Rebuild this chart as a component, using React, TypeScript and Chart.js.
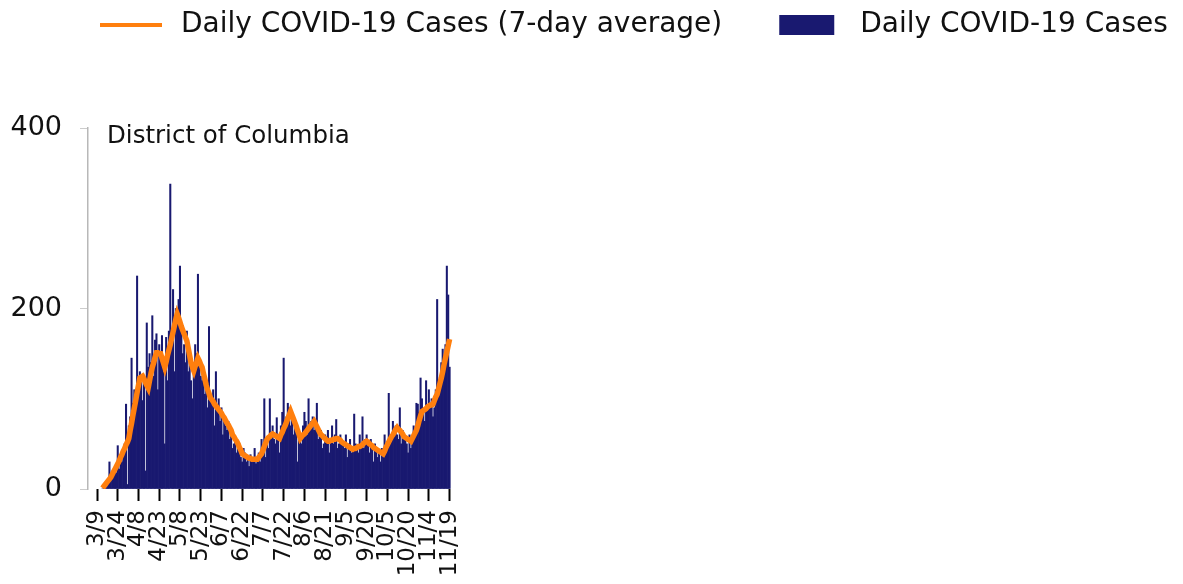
import { useEffect, useRef } from "react";
import { Chart, registerables } from "chart.js";

Chart.register(...registerables);

const TICK_LABELS = [
  "3/9", "3/24", "4/8", "4/23", "5/8", "5/23", "6/7", "6/22", "7/7",
  "7/22", "8/6", "8/21", "9/5", "9/20", "10/5", "10/20", "11/4", "11/19",
];
const TICK_STEP_DAYS = 15;
const FIRST_DATA_DAY = 4; // data begins 3/13 (days counted from 3/9)
const Y_TICKS = [0, 200, 400];
const PANEL_TITLE = "District of Columbia";
const LABEL_DAILY = "Daily COVID-19 Cases";
const LABEL_AVG = "Daily COVID-19 Cases (7-day average)";

// daily new cases, one per day from 3/13 to 11/19
const DAILY_CASES = [
  0, 2, 1, 3, 6, 30, 10, 12, 15, 20, 18, 48, 22, 35, 30, 42, 50, 94, 5, 70,
  80, 145, 95, 110, 105, 236, 120,
  130, 118, 98, 120, 20, 184, 135,
  150, 140, 192, 125, 165, 172, 110,
  160, 150, 170, 130, 50, 168, 120,
  175, 338, 165, 221, 130, 200, 190,
  210, 247, 180, 150, 160, 140, 175,
  130, 145, 120, 100, 135, 160, 150,
  238, 140, 125, 120, 130, 105, 115,
  90, 180, 100, 95, 110, 70, 130,
  85, 100, 75, 90, 60, 80, 70,
  65, 75, 55, 60, 45, 50,
  55, 40, 45, 50, 35, 30, 45,
  40, 30, 35, 25, 38, 33, 30,
  45, 28, 35, 40, 30, 55, 40,
  100, 35, 50, 45, 100, 60, 70,
  55, 50, 79, 60, 40, 70, 85,
  145, 75, 80, 95, 90, 70, 85,
  60, 75, 65, 30, 55, 60, 50,
  70, 85, 75, 60, 100, 70, 75,
  80, 65, 70, 95, 55, 60, 65,
  45, 50, 60, 55, 65, 40, 55,
  70, 50, 60, 77, 45, 50, 60,
  55, 50, 45, 60, 35, 50,
  55, 40, 45, 83, 50, 45, 40,
  60, 50, 80, 45, 55, 60, 50,
  40, 55, 45, 30, 50, 45, 35,
  40, 30, 45, 35, 60, 40, 45,
  106, 55, 60, 75, 65, 70, 60,
  55, 90, 50, 65, 60, 55,
  50, 40, 60, 45, 55, 70, 65,
  95, 94, 85, 123, 100, 85, 75,
  120, 90, 110, 95, 100, 80, 90,
  110, 210, 115, 120, 140, 155, 130,
  160, 247, 215, 135,
];

// 7-day average, one per day from 3/13 to 11/19
const AVG_7DAY = [
  1, 3, 5, 7, 9, 11, 13, 16, 19, 22, 25, 28, 31, 35, 38, 42, 45, 49, 52, 56,
  65, 73, 82, 90, 98, 107, 115, 123, 124,
  125, 122, 118, 115, 112, 120, 128, 135, 140, 146,
  151, 151, 150, 150, 145, 140, 135, 141, 148, 154,
  160, 167, 174, 181, 188, 194, 190, 185, 180, 176,
  172, 168, 164, 156, 148, 140, 135, 131, 136, 140,
  145, 142, 138, 135, 128, 122, 115, 110, 106, 101,
  99, 97, 94, 92, 90, 88, 86, 84, 81, 79,
  76, 73, 71, 68, 65, 60, 58, 55, 53,
  50, 46, 43, 39, 38, 37, 36, 35, 34, 34,
  33, 33, 33, 33, 33, 35, 37, 39, 43, 47,
  51, 55, 57, 58, 60, 61, 60, 59, 58, 57,
  56, 60, 63, 67, 70, 74, 78, 82, 86, 82,
  78, 74, 70, 65, 61, 56, 58, 60, 61, 63,
  65, 67, 69, 71, 73, 75, 72, 69, 66, 63,
  60, 59, 57, 56, 54, 53, 53, 54, 54, 55,
  55, 56, 56, 55, 54, 52, 51, 50, 49,
  48, 47, 46, 45, 44, 45, 45, 46, 47, 47,
  48, 49, 51, 52, 53, 52, 50, 49, 48, 46,
  45, 44, 43, 42, 41, 40, 39, 42, 46, 49,
  52, 55, 58, 60, 63, 66, 68, 66, 65, 63,
  61, 58, 57, 56, 55, 54, 53, 56, 59,
  62, 65, 70, 76, 81, 86, 87, 88, 89, 91,
  92, 93, 93, 94, 98, 102, 105, 111, 117, 123,
  130, 138, 145, 152, 159, 166,
];

const ORANGE = "#ff7f0e";
const NAVY = "#191970";
const FONT = '"DejaVu Sans", sans-serif';

const overlayPlugin = {
  id: "overlay",
  afterDraw(chart: any) {
    const ctx = chart.ctx as CanvasRenderingContext2D;
    const { left, top } = chart.chartArea;
    ctx.save();
    // panel title
    ctx.font = `24.5px ${FONT}`;
    ctx.fillStyle = "#111";
    ctx.textAlign = "left";
    ctx.textBaseline = "middle";
    ctx.fillText(PANEL_TITLE, left + 19, top + 9);

    // legend
    ctx.font = `28px ${FONT}`;
    const cy = 25;
    let x = 100;
    const items = [...chart.data.datasets].sort((a: any, b: any) => a.order - b.order);
    items.forEach((ds: any, i: number) => {
      if (ds.type === "line") {
        ctx.strokeStyle = ds.borderColor;
        ctx.lineWidth = 4;
        ctx.beginPath();
        ctx.moveTo(x, cy);
        ctx.lineTo(x + 62, cy);
        ctx.stroke();
        x += 62 + 19;
      } else {
        ctx.fillStyle = ds.backgroundColor;
        ctx.fillRect(x, cy - 10, 55, 20);
        x += 55 + 26;
      }
      ctx.fillStyle = "#111";
      ctx.fillText(ds.label, x, cy);
      x += ctx.measureText(ds.label).width;
      if (i < items.length - 1) x += 57;
    });
    ctx.restore();
  },
};

export default function App() {
  const canvasRef = useRef<HTMLCanvasElement | null>(null);

  useEffect(() => {
    document.body.style.margin = "0";
    const canvas = canvasRef.current;
    if (!canvas) return;
    const pxPerDay = 352.6 / 255;
    const xMin = -9 / pxPerDay;
    const xMax = xMin + 376 / pxPerDay;

    const chart = new Chart(canvas, {
      type: "bar",
      data: {
        datasets: [
          {
            type: "line",
            label: LABEL_AVG,
            data: AVG_7DAY.map((y, i) => ({ x: i + FIRST_DATA_DAY, y })),
            borderColor: ORANGE,
            backgroundColor: ORANGE,
            borderWidth: 5.5,
            pointRadius: 0,
            tension: 0,
            order: 0,
          },
          {
            type: "bar",
            label: LABEL_DAILY,
            data: DAILY_CASES.map((y, i) => ({ x: i + FIRST_DATA_DAY, y })),
            backgroundColor: NAVY,
            borderWidth: 0,
            barPercentage: 1,
            categoryPercentage: 1,
            order: 1,
          },
        ] as any,
      },
      options: {
        responsive: false,
        animation: false,
        devicePixelRatio: 1,
        layout: { padding: { top: 128, right: 719, bottom: 0, left: 0 } },
        plugins: {
          legend: { display: false },
          tooltip: { enabled: false },
          title: { display: false },
        },
        scales: {
          x: {
            type: "linear",
            min: xMin,
            max: xMax,
            offset: false,
            afterBuildTicks: (scale: any) => {
              scale.ticks = TICK_LABELS.map((_, i) => ({ value: i * TICK_STEP_DAYS }));
            },
            afterFit: (scale: any) => {
              scale.height = 95;
            },
            ticks: {
              autoSkip: false,
              maxRotation: 90,
              minRotation: 90,
              padding: 9,
              color: "#111",
              font: { family: FONT, size: 23 },
              callback: (v: any) => TICK_LABELS[Math.round(Number(v) / TICK_STEP_DAYS)] ?? "",
            },
            grid: {
              display: true,
              offset: false,
              drawOnChartArea: false,
              drawTicks: true,
              tickLength: 12,
              tickColor: "#000",
              tickWidth: 2,
            },
            border: { display: false },
          },
          y: {
            min: 0,
            max: 400,
            afterBuildTicks: (scale: any) => {
              scale.ticks = Y_TICKS.map((value) => ({ value }));
            },
            afterFit: (scale: any) => {
              scale.width = 88;
            },
            ticks: {
              padding: 18,
              color: "#111",
              font: { family: FONT, size: 27 },
            },
            grid: {
              display: true,
              drawOnChartArea: false,
              drawTicks: true,
              tickLength: 8,
              tickColor: "#cccccc",
              tickWidth: 1,
            },
            border: { display: true, color: "#b8b8b8", width: 1.5 },
          },
        },
      },
      plugins: [overlayPlugin],
    });
    return () => chart.destroy();
  }, []);

  return (
    <div style={{ width: 1183, height: 584, background: "#fff" }}>
      <canvas ref={canvasRef} width={1183} height={584} style={{ display: "block" }} />
    </div>
  );
}
